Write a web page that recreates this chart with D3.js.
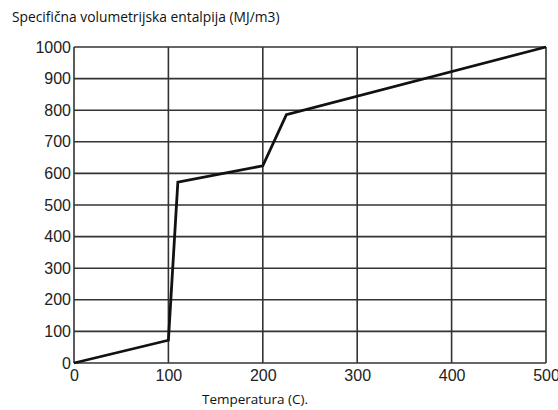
<!DOCTYPE html>
<html><head><meta charset="utf-8">
<script src="https://cdn.jsdelivr.net/npm/d3@7"></script>
<style>body{margin:0;background:#fff;}svg{display:block;}</style>
</head><body>
<script>
const temps = [0, 100, 110, 200, 225, 500];
const enthalpy = [0, 72, 572, 624, 786, 1000];
const xTicks = [0, 100, 200, 300, 400, 500];
const yTicks = [0, 100, 200, 300, 400, 500, 600, 700, 800, 900, 1000];
const title = "Specifična volumetrijska entalpija (MJ/m3)";
const xLabel = "Temperatura (C).";

const W = 558, H = 410;
const m = {left: 74, right: 12, top: 47, bottom: 47};
const svg = d3.select("body").append("svg").attr("width", W).attr("height", H);
const x = d3.scaleLinear().domain([0, 500]).range([m.left, W - m.right]);
const y = d3.scaleLinear().domain([0, 1000]).range([H - m.bottom, m.top]);

const g = svg.append("g");
g.selectAll(".vg").data(xTicks).join("line")
  .attr("x1", d => x(d)).attr("x2", d => x(d)).attr("y1", y(0)).attr("y2", y(1000))
  .attr("stroke", "#333").attr("stroke-width", 1.6);
g.selectAll(".hg").data(yTicks).join("line")
  .attr("y1", d => y(d)).attr("y2", d => y(d)).attr("x1", x(0)).attr("x2", x(500))
  .attr("stroke", "#333").attr("stroke-width", 1.6);

const fmt = d3.format("d");
const yAxis = d3.axisLeft(y).tickValues(yTicks).tickFormat(fmt).tickSize(0).tickPadding(3);
const ya = svg.append("g").attr("transform", `translate(${x(0)},0)`).call(yAxis);
ya.select(".domain").remove();
ya.selectAll("text").attr("font-family", "Liberation Sans, Arial, sans-serif").attr("font-size", 16).attr("fill", "#222");

const xAxis = d3.axisBottom(x).tickValues(xTicks).tickFormat(fmt).tickSize(0).tickPadding(7);
const xa = svg.append("g").attr("transform", `translate(0,${y(0)})`).call(xAxis);
xa.select(".domain").remove();
xa.selectAll("text").attr("font-family", "Liberation Sans, Arial, sans-serif").attr("font-size", 16).attr("fill", "#222");

const line = d3.line().x((d, i) => x(temps[i])).y(d => y(d));
svg.append("path").datum(enthalpy).attr("d", line)
  .attr("fill", "none").attr("stroke", "#111").attr("stroke-width", 2.8).attr("stroke-linejoin", "miter");

svg.append("text").attr("x", 12).attr("y", 22).text(title)
  .attr("font-family", "Open Sans, Noto Sans, sans-serif").attr("font-size", 13.8).attr("fill", "#111");
svg.append("text").attr("x", 255).attr("y", 404).attr("text-anchor", "middle").text(xLabel)
  .attr("font-family", "Open Sans, Noto Sans, sans-serif").attr("font-size", 13.5).attr("fill", "#111");
</script>
</body></html>
